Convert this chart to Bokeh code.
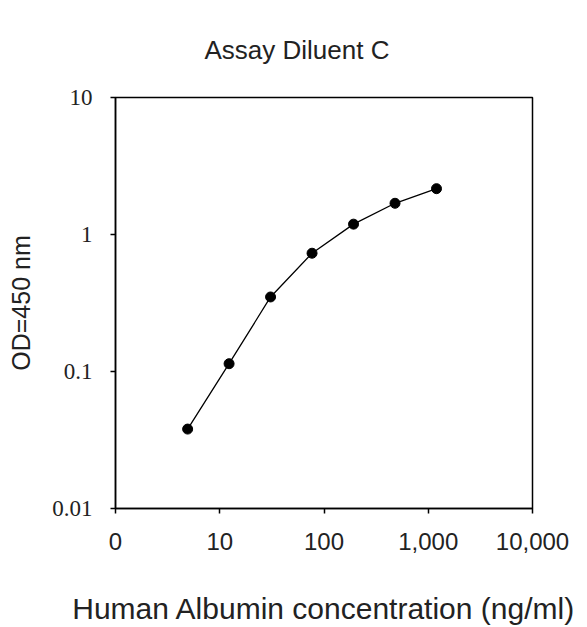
from bokeh.plotting import figure
from bokeh.models import Range1d, FixedTicker
from bokeh.embed import file_html
from bokeh.resources import INLINE

# Data
title_text = "Assay Diluent C"
concentration = [4.92, 12.29, 30.72, 76.8, 192, 480, 1200]
od450 = [0.038, 0.114, 0.35, 0.73, 1.19, 1.69, 2.16]

x_ticks = [1, 10, 100, 1000, 10000]
x_tick_labels = ["0", "10", "100", "1,000", "10,000"]
y_ticks = [0.01, 0.1, 1, 10]
y_tick_labels = ["0.01", "0.1", "1", "10"]

p = figure(width=587, height=627, x_axis_type="log", y_axis_type="log",
           x_range=Range1d(1, 10000), y_range=Range1d(0.01, 10),
           output_backend="svg", toolbar_location=None,
           min_border_left=115, min_border_right=55,
           min_border_top=97, min_border_bottom=119,
           title=title_text)

p.background_fill_color = "white"
p.border_fill_color = "white"
p.outline_line_color = "black"
p.outline_line_width = 1.5
p.xgrid.visible = False
p.ygrid.visible = False

p.title.text_font = "Liberation Sans"
p.title.text_font_size = "26px"
p.title.text_font_style = "normal"
p.title.text_color = "#222222"
p.title.align = "left"
p.title.offset = 89
p.title.standoff = 61
p.title.vertical_align = "top"

xa = p.below[0]
xa.ticker = FixedTicker(ticks=x_ticks, minor_ticks=[])
xa.major_label_overrides = {t: l for t, l in zip(x_ticks, x_tick_labels)}
xa.major_label_text_font = "Liberation Sans"
xa.major_label_text_font_size = "24px"
xa.major_label_text_color = "#222222"
xa.major_tick_in = 0
xa.major_tick_out = 5
xa.minor_tick_line_color = None
xa.major_label_standoff = 19
xa.axis_line_width = 1.5
xa.major_tick_line_width = 1.5
xa.axis_label = "Human Albumin concentration (ng/ml)"
xa.axis_label_text_font = "Liberation Sans"
xa.axis_label_text_font_size = "30px"
xa.axis_label_text_font_style = "normal"
xa.axis_label_text_color = "#222222"
xa.axis_label_standoff = 39

ya = p.left[0]
ya.ticker = FixedTicker(ticks=y_ticks, minor_ticks=[])
ya.major_label_overrides = {t: l for t, l in zip(y_ticks, y_tick_labels)}
ya.major_label_text_font = "Liberation Serif"
ya.major_label_text_font_size = "23px"
ya.major_label_text_color = "#222222"
ya.major_tick_in = 0
ya.major_tick_out = 5
ya.minor_tick_line_color = None
ya.major_label_standoff = 18
ya.axis_line_width = 1.5
ya.major_tick_line_width = 1.5
ya.axis_label = "OD=450 nm"
ya.axis_label_text_font = "Liberation Sans"
ya.axis_label_text_font_size = "25px"
ya.axis_label_text_font_style = "normal"
ya.axis_label_text_color = "#222222"
ya.axis_label_standoff = 14

p.line(concentration, od450, line_color="black", line_width=1.3)
p.scatter(concentration, od450, size=10, marker="circle",
          fill_color="black", line_color="black")

open("out.html", "w").write(file_html(p, INLINE))
